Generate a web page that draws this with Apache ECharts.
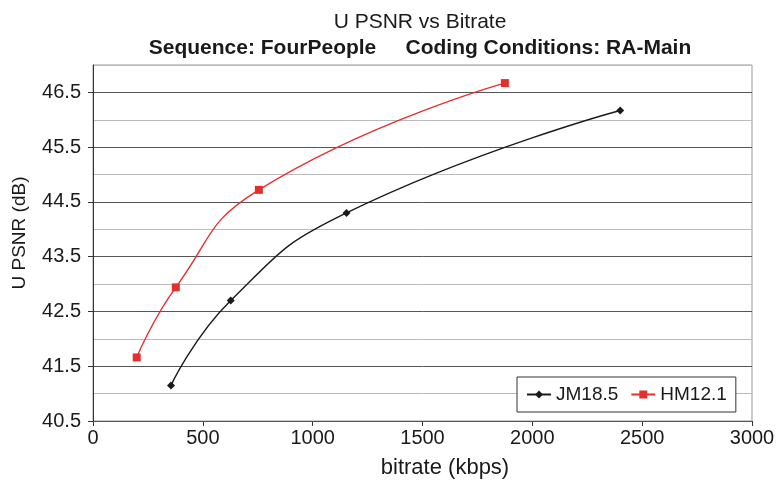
<!DOCTYPE html>
<html>
<head>
<meta charset="utf-8">
<script src="https://cdn.jsdelivr.net/npm/echarts@6/dist/echarts.min.js"></script>
<style>
html,body{margin:0;padding:0;background:#fff;}
#chart{width:779px;height:489px;}
</style>
</head>
<body>
<div id="chart"></div>
<script>
// ---- data ----
var titleMain = 'U PSNR vs Bitrate';
var titleSub = 'Sequence: FourPeople     Coding Conditions: RA-Main';
var xName = 'bitrate (kbps)';
var yName = 'U PSNR (dB)';
var seriesNames = ['JM18.5', 'HM12.1'];
var jmBitrate = [355, 627, 1154, 2400];
var jmPsnr = [41.15, 42.70, 44.30, 46.17];
var hmBitrate = [199, 377, 755, 1875];
var hmPsnr = [41.66, 42.94, 44.72, 46.67];
var yTickLabels = [40.5, 41.5, 42.5, 43.5, 44.5, 45.5, 46.5];
var xTickLabels = [0, 500, 1000, 1500, 2000, 2500, 3000];

function pairs(xs, ys) { return xs.map(function (x, i) { return [x, ys[i]]; }); }

var font = 'Liberation Sans, Arial, Helvetica, sans-serif';
var chart = echarts.init(document.getElementById('chart'), null, { renderer: 'canvas' });
chart.setOption({
  animation: false,
  backgroundColor: '#ffffff',
  title: [
    { text: titleMain, left: 415, top: 7, textAlign: 'center',
      textStyle: { fontFamily: font, fontSize: 21, fontWeight: 'normal', color: '#1a1a1a' } },
    { text: titleSub, left: 415, top: 33, textAlign: 'center',
      textStyle: { fontFamily: font, fontSize: 21, fontWeight: 'bold', color: '#1a1a1a' } }
  ],
  legend: {
    left: 517, top: 377,
    orient: 'horizontal',
    backgroundColor: '#fff',
    borderColor: '#333', borderWidth: 1,
    padding: [8, 9, 8, 9],
    itemWidth: 24, itemHeight: 10, itemGap: 12,
    textStyle: { fontFamily: font, fontSize: 19, color: '#1a1a1a' },
    data: seriesNames
  },
  grid: {
    left: 93, right: 27, top: 65, bottom: 68,
    show: true, borderColor: '#999', borderWidth: 1, backgroundColor: 'transparent'
  },
  xAxis: {
    type: 'value', min: 0, max: 3000, interval: 500,
    name: xName, nameLocation: 'middle', nameGap: 36,
    nameTextStyle: { fontFamily: font, fontSize: 22, color: '#1a1a1a', padding: [0, 0, 0, 45] },
    axisLine: { show: true, lineStyle: { color: '#333', width: 1 } },
    axisTick: { show: true, inside: false, length: 5, lineStyle: { color: '#333' } },
    axisLabel: { fontFamily: font, fontSize: 20, color: '#1a1a1a', margin: 7,
      customValues: xTickLabels,
      formatter: function (v) { return String(v); } },
    splitLine: { show: false }
  },
  yAxis: [
    {
      type: 'value', min: 40.5, max: 47, interval: 0.5,
      name: yName, nameLocation: 'middle', nameGap: 64, nameRotate: 90,
      nameTextStyle: { fontFamily: font, fontSize: 19, color: '#1a1a1a', padding: [0, 0, 0, 20] },
      axisLine: { show: true, lineStyle: { color: '#333', width: 1 } },
      axisTick: { show: true, inside: false, length: 5, lineStyle: { color: '#333' },
        customValues: yTickLabels },
      axisLabel: { fontFamily: font, fontSize: 20, color: '#1a1a1a', margin: 12,
        customValues: yTickLabels,
        formatter: function (v) { return v.toFixed(1); } },
      splitLine: { show: false },
      z: 3
    },
    {
      type: 'value', min: 40.5, max: 47, interval: 0.5, position: 'left',
      axisLine: { show: false }, axisTick: { show: false }, axisLabel: { show: false },
      splitLine: { show: true, lineStyle: { color: ['#555', '#bbb'], width: 1 } },
      z: 1
    }
  ],
  series: [
    { name: seriesNames[0], type: 'line', data: pairs(jmBitrate, jmPsnr), yAxisIndex: 0,
      smooth: 0.5, symbol: 'diamond', symbolSize: 8, showSymbol: true,
      lineStyle: { color: '#1a1a1a', width: 1.4 },
      itemStyle: { color: '#1a1a1a' } },
    { name: seriesNames[1], type: 'line', data: pairs(hmBitrate, hmPsnr), yAxisIndex: 0,
      smooth: 0.5, symbol: 'rect', symbolSize: 8, showSymbol: true,
      lineStyle: { color: '#e3302f', width: 1.4 },
      itemStyle: { color: '#e3302f' } }
  ]
});
</script>
</body>
</html>
